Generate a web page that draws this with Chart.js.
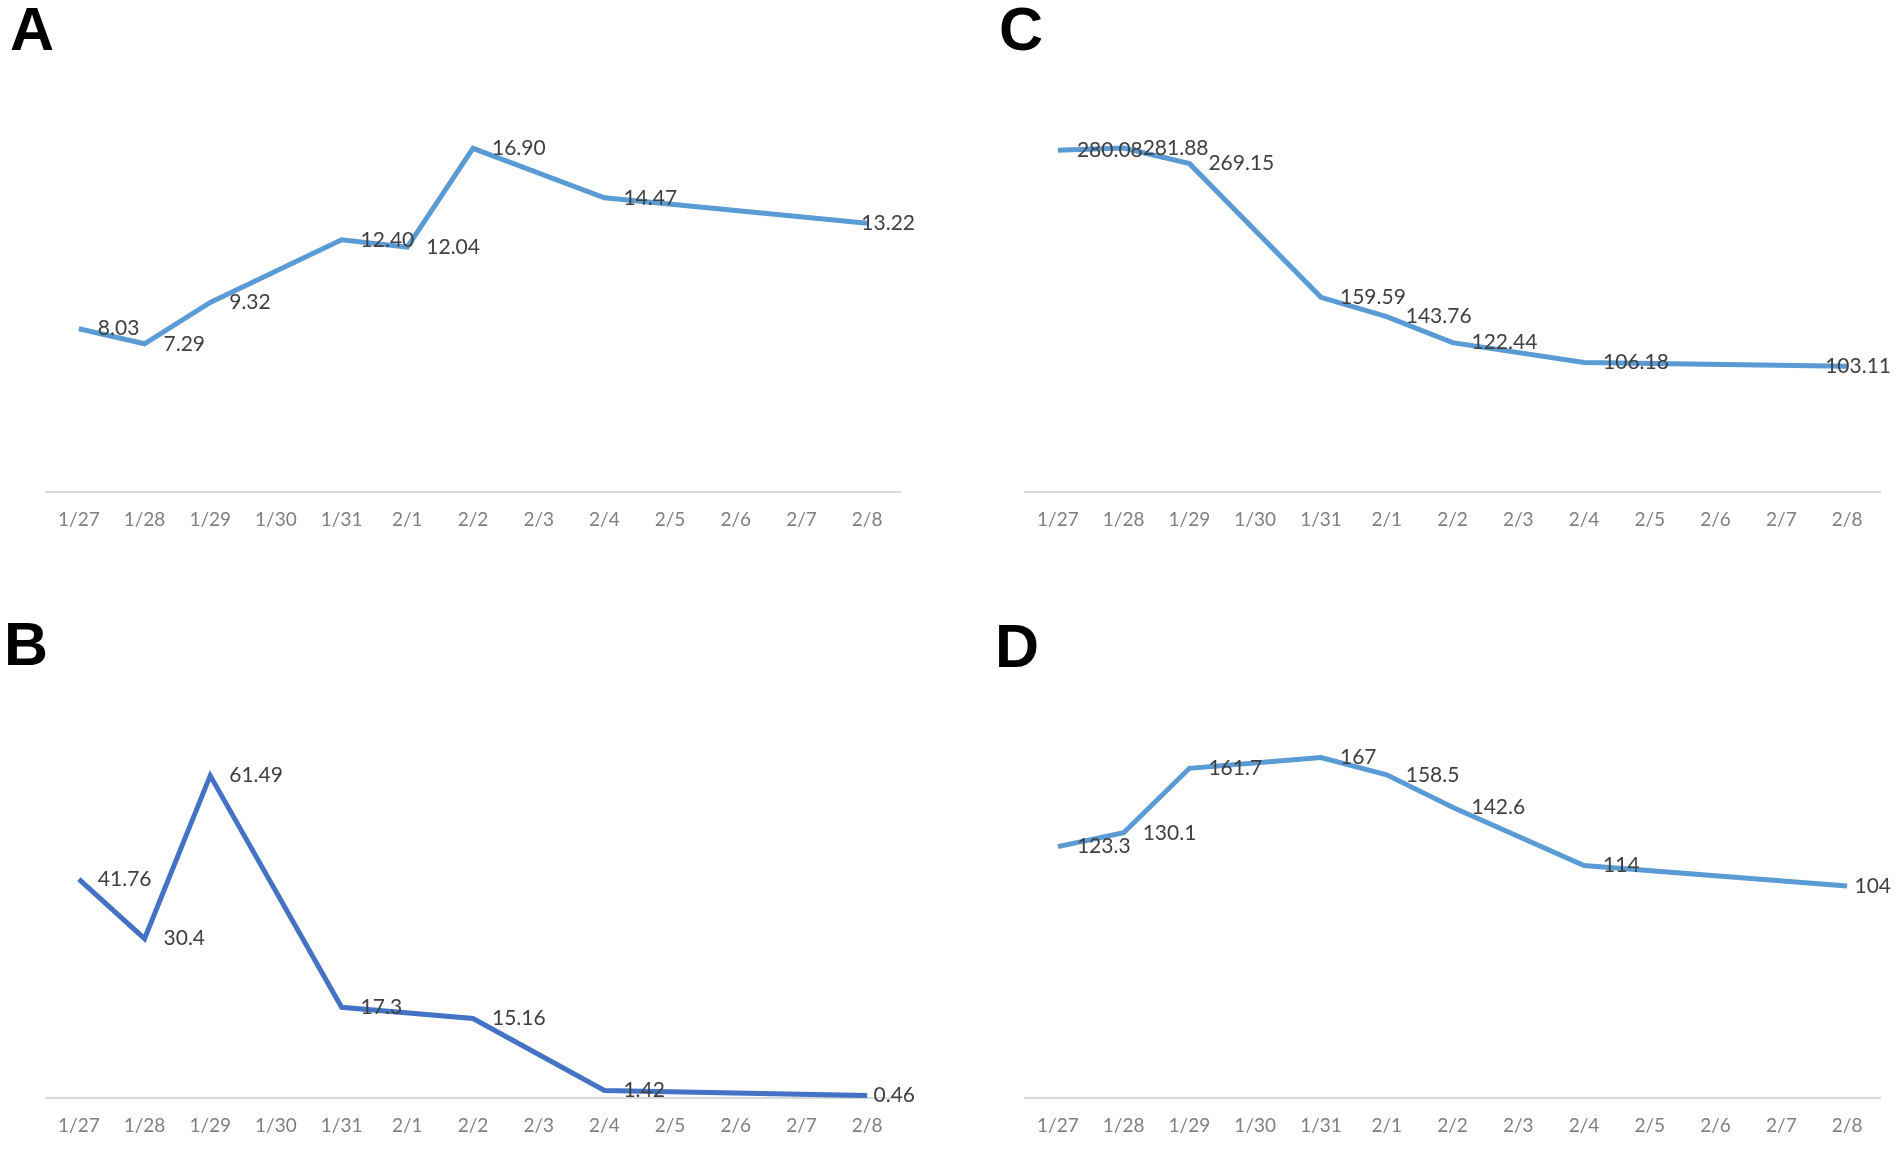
<!DOCTYPE html>
<html>
<head>
<meta charset="utf-8">
<script src="https://cdn.jsdelivr.net/npm/chart.js@4.4.1/dist/chart.umd.min.js"></script>
<style>
  body { margin: 0; background: #fff; width: 1901px; height: 1159px; position: relative; overflow: hidden; }
  canvas { position: absolute; }
  .tag { position: absolute; font-family: "Liberation Sans", Arial, sans-serif; font-weight: bold; font-size: 61px; line-height: 1; color: #000; }
</style>
</head>
<body>
<div class="tag" style="left:10px;top:-1px">A</div>
<div class="tag" style="left:999px;top:-1px">C</div>
<div class="tag" style="left:4px;top:614px">B</div>
<div class="tag" style="left:995px;top:616px">D</div>

<canvas id="chart-a" width="950" height="580" style="left:0;top:0"></canvas>
<canvas id="chart-c" width="951" height="580" style="left:950px;top:0"></canvas>
<canvas id="chart-b" width="950" height="579" style="left:0;top:580px"></canvas>
<canvas id="chart-d" width="951" height="579" style="left:950px;top:580px"></canvas>

<script>
// dates (x axis)
var dates = ["1/27", "1/28", "1/29", "1/30", "1/31", "2/1", "2/2", "2/3", "2/4", "2/5", "2/6", "2/7", "2/8"];

// A
var values_a = [8.03, 7.29, 9.32, null, 12.40, 12.04, 16.90, null, 14.47, null, null, null, 13.22];
// B
var values_b = [41.76, 30.4, 61.49, null, 17.3, null, 15.16, null, 1.42, null, null, null, 0.46];
// C
var values_c = [280.08, 281.88, 269.15, null, 159.59, 143.76, 122.44, null, 106.18, null, null, null, 103.11];
// D
var values_d = [123.3, 130.1, 161.7, null, 167, 158.5, 142.6, null, 114, null, null, null, 104];

// value labels to the right of each point, pushed back inside the panel edge
var pointLabels = {
    id: "pointLabels",
    afterDatasetsDraw: function(chart) {
        var ctx = chart.ctx;
        var ds = chart.data.datasets[0];
        var meta = chart.getDatasetMeta(0);
        ctx.save();
        ctx.font = "21px Lato, 'Open Sans', sans-serif";
        ctx.fillStyle = "#404040";
        ctx.textBaseline = "middle";
        ctx.textAlign = "left";
        for (let i = 0; i < ds.data.length; i++) {
            var v = ds.data[i];
            if (v === null) continue;
            var txt = ds.decimals ? v.toFixed(ds.decimals) : String(v);
            var pt = meta.data[i];
            var x = pt.x + 19;
            var w = ctx.measureText(txt).width;
            if (x + w > ds.labelLimit) x = ds.labelLimit - w;
            ctx.fillText(txt, x, pt.y);
        }
        ctx.restore();
    }
};

function makeChart(id, values, yMax, color, decimals, padTop, padLeft, axisHeight, labelLimit) {
    var ctx = document.getElementById(id).getContext("2d");
    return new Chart(ctx, {
        type: "line",
        data: {
            labels: dates,
            datasets: [{
                data: values,
                borderColor: color,
                backgroundColor: color,
                borderWidth: 5,
                pointRadius: 0,
                tension: 0,
                spanGaps: true,
                decimals: decimals,
                labelLimit: labelLimit,
            }],
        },
        options: {
            responsive: false,
            animation: false,
            events: [],
            layout: {
                padding: { top: padTop, left: padLeft, right: 950 - padLeft - 854, bottom: 0 }
            },
            scales: {
                x: {
                    offset: true,
                    grid: { display: false, drawTicks: false },
                    border: { display: true, color: "#d9d9d9", width: 2 },
                    ticks: {
                        color: "#7f7f7f",
                        font: { family: "Lato, 'Open Sans', sans-serif", size: 19 },
                        padding: 16,
                        maxRotation: 0,
                        autoSkip: false,
                    },
                    afterFit: function(scale) { scale.height = axisHeight; },
                },
                y: {
                    display: false,
                    min: 0,
                    max: yMax,
                },
            },
            plugins: {
                legend: { display: false },
                tooltip: { enabled: false },
            },
        },
        plugins: [pointLabels],
    });
}

makeChart("chart-a", values_a, 18, "#5B9BD5", 2, 126, 46, 88, 915);
makeChart("chart-c", values_c, 300, "#5B9BD5", 2, 126, 75, 88, 941);
makeChart("chart-b", values_b, 70, "#4472C4", 0, 151, 46, 61, 915);
makeChart("chart-d", values_d, 180, "#5B9BD5", 0, 151, 75, 61, 941);
</script>
</body>
</html>
